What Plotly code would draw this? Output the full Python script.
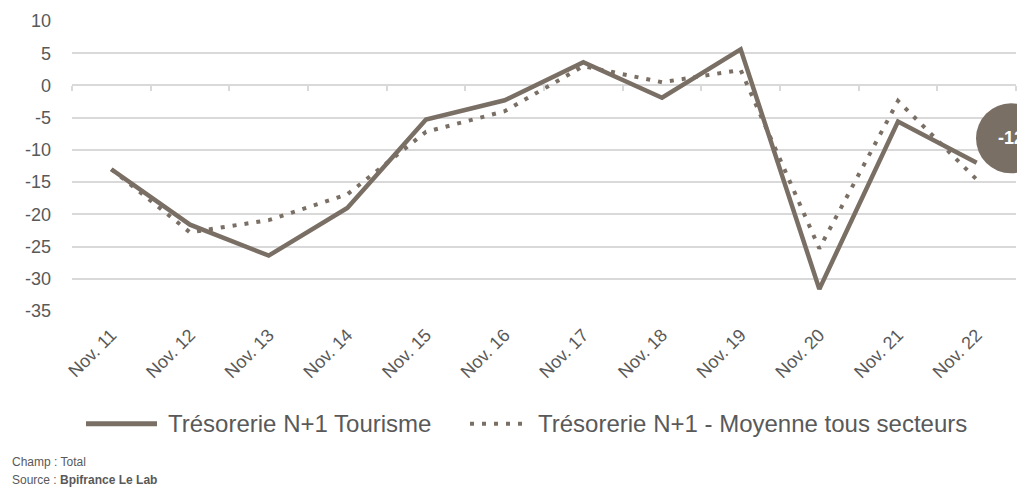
import plotly.graph_objects as go

categories = ["Nov. 11", "Nov. 12", "Nov. 13", "Nov. 14", "Nov. 15", "Nov. 16",
              "Nov. 17", "Nov. 18", "Nov. 19", "Nov. 20", "Nov. 21", "Nov. 22"]
tourisme = [-13.0, -21.6, -26.4, -19.0, -5.3, -2.3, 3.6, -1.9, 5.6, -31.6, -5.6, -12.0]
moyenne = [-13.0, -22.8, -20.9, -16.9, -7.2, -4.0, 3.0, 0.5, 2.4, -25.3, -2.4, -14.6]
y_ticks = [10, 5, 0, -5, -10, -15, -20, -25, -30, -35]
y_ticktext = [str(v) for v in y_ticks]
series_names = ["Trésorerie N+1 Tourisme", "Trésorerie N+1 - Moyenne tous secteurs"]
bubble_label = "-12"

COL = "#7a6f65"
TXT = "#595959"
GRID = "#d9d9d9"

# plot area in pixels
L, R, T, B = 72, 1016, 20.5, 311
PW, PH = R - L, B - T


def px(x):
    return (x - L) / PW


def py(y):
    return (B - y) / PH


fig = go.Figure()
fig.add_trace(go.Scatter(x=categories, y=tourisme, mode="lines", name=series_names[0],
                         showlegend=False, line=dict(color=COL, width=4.5)))
fig.add_trace(go.Scatter(x=categories, y=moyenne, mode="lines", name=series_names[1],
                         showlegend=False, line=dict(color=COL, width=4, dash="4px,8px")))
# carrier for the boundary tick marks on the zero line
fig.add_trace(go.Scatter(x=[None], y=[None], xaxis="x2", showlegend=False, hoverinfo="skip"))

fig.update_layout(
    width=1017, height=495,
    margin=dict(l=L, r=1017 - R, t=T, b=495 - B, autoexpand=False),
    paper_bgcolor="white", plot_bgcolor="white",
    font=dict(family="Liberation Sans, Arial, sans-serif", color=TXT),
    showlegend=False,
    xaxis=dict(type="category", range=[-0.5, 11.5], showgrid=False, zeroline=False,
               showline=False, ticks="", tickangle=-45, ticklabelstandoff=9,
               tickfont=dict(size=18, color=TXT)),
    xaxis2=dict(overlaying="x", anchor="free", position=35 / 45, range=[-0.5, 11.5],
                tickvals=[i - 0.5 for i in range(13)], ticks="outside", ticklen=5,
                tickcolor=GRID, tickwidth=1.5, showticklabels=False, showgrid=False,
                zeroline=False, showline=False, side="bottom"),
    yaxis=dict(range=[-35, 10], tickvals=y_ticks, ticktext=y_ticktext, showgrid=True,
               gridcolor=GRID, gridwidth=1.5, zeroline=False, showline=False,
               tickfont=dict(size=18, color=TXT), ticklabelstandoff=20),
)

# legend drawn by hand (long sample lines like the original)
LEG_Y = py(424)
fig.add_shape(type="line", xref="paper", yref="paper", x0=px(86), x1=px(157),
              y0=LEG_Y, y1=LEG_Y, line=dict(color=COL, width=5))
fig.add_annotation(text=series_names[0], xref="paper", yref="paper", x=px(166), y=LEG_Y,
                   showarrow=False, xanchor="left", yanchor="middle",
                   font=dict(size=24, color=TXT))
fig.add_shape(type="line", xref="paper", yref="paper", x0=px(470), x1=px(530),
              y0=LEG_Y, y1=LEG_Y, line=dict(color=COL, width=4, dash="4px,8px"))
fig.add_annotation(text=series_names[1], xref="paper", yref="paper", x=px(536), y=LEG_Y,
                   showarrow=False, xanchor="left", yanchor="middle",
                   font=dict(size=24, color=TXT))

# value bubble, cut by the right edge as in the original
fig.add_shape(type="circle", xref="paper", yref="paper",
              xsizemode="pixel", ysizemode="pixel",
              xanchor=px(1011), yanchor=py(138),
              x0=-35, x1=35, y0=-35, y1=35,
              fillcolor=COL, line=dict(width=0), layer="above")
fig.add_annotation(text="<b>" + bubble_label + "</b>", xref="paper", yref="paper",
                   x=px(1011), y=py(138), showarrow=False,
                   font=dict(size=18, color="white"), xanchor="center", yanchor="middle")

fig.add_annotation(text="Champ : Total", xref="paper", yref="paper",
                   x=px(10), y=py(462), showarrow=False,
                   xanchor="left", yanchor="middle", font=dict(size=12, color=TXT))
fig.add_annotation(text="Source : <b>Bpifrance Le Lab</b>", xref="paper", yref="paper",
                   x=px(10), y=py(480), showarrow=False,
                   xanchor="left", yanchor="middle", font=dict(size=12, color=TXT))

fig.write_html("out.html", config={"displayModeBar": False},
               post_script="document.body.style.margin='0';")
